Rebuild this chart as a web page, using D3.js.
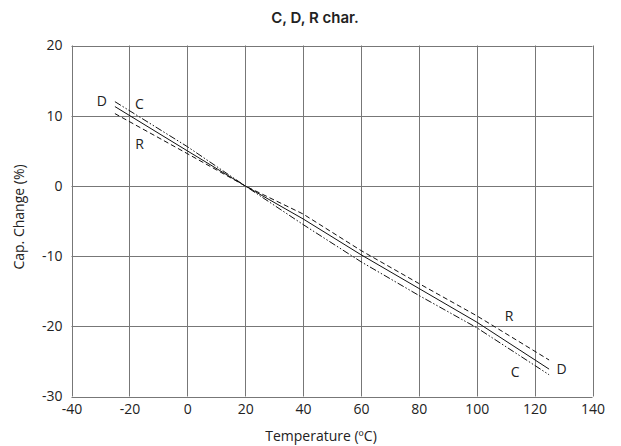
<!DOCTYPE html>
<html>
<head>
<meta charset="utf-8">
<script src="https://cdn.jsdelivr.net/npm/d3@7"></script>
<style>
  html, body { margin: 0; padding: 0; background: #fff; }
  svg { display: block; }
</style>
</head>
<body>
<svg id="chart" width="621" height="446"></svg>
<script>
// Temperature characteristics of capacitance change
const temps = [-25, 0, 20, 40, 60, 80, 100, 125];
const seriesC = [12.0, 5.6, 0, -5.5, -10.8, -15.6, -20.2, -26.9];
const seriesD = [11.3, 5.0, 0, -4.7, -9.8, -14.6, -19.4, -26.1];
const seriesR = [10.3, 4.6, 0, -4.0, -9.2, -13.9, -18.5, -24.8];

const xTicks = [-40, -20, 0, 20, 40, 60, 80, 100, 120, 140];
const yTicks = [-30, -20, -10, 0, 10, 20];

const svg = d3.select("#chart");
const margin = { left: 71.5, right: 28.5, top: 45.5, bottom: 49.5 };
const W = 621, H = 446;

const x = d3.scaleLinear().domain([-40, 140]).range([margin.left, W - margin.right]);
const y = d3.scaleLinear().domain([-30, 20]).range([H - margin.bottom, margin.top]);

const tickFont = "'Open Sans', sans-serif";
const fmt = d => String(d); // plain hyphen-minus

// grid
const grid = svg.append("g").attr("stroke", "#777").attr("stroke-width", 1);
grid.selectAll("line.v").data(xTicks).join("line")
  .attr("class", "v")
  .attr("x1", d => Math.round(x(d)) + 0.5).attr("x2", d => Math.round(x(d)) + 0.5)
  .attr("y1", y(20)).attr("y2", y(-30));
grid.selectAll("line.h").data(yTicks).join("line")
  .attr("class", "h")
  .attr("y1", d => Math.round(y(d)) + 0.5).attr("y2", d => Math.round(y(d)) + 0.5)
  .attr("x1", x(-40)).attr("x2", x(140));

// axes (labels only)
const xAxis = d3.axisBottom(x).tickValues(xTicks).tickFormat(fmt).tickSize(0).tickPadding(8);
const gx = svg.append("g").attr("transform", `translate(0,${y(-30)})`).call(xAxis);
gx.select(".domain").remove();
gx.selectAll("text").attr("font-family", tickFont).attr("font-size", 14).attr("fill", "#222");

const yAxis = d3.axisLeft(y).tickValues(yTicks).tickFormat(fmt).tickSize(0).tickPadding(9);
const gy = svg.append("g").attr("transform", `translate(${x(-40)},0)`).call(yAxis);
gy.select(".domain").remove();
gy.selectAll("text").attr("font-family", tickFont).attr("font-size", 14).attr("fill", "#222");

// curves
const line = vals => d3.line().x((d, i) => x(temps[i])).y(d => y(d))(vals);
const curves = [
  { vals: seriesC, dash: "7,2,1.5,2,1.5,2" },
  { vals: seriesD, dash: null },
  { vals: seriesR, dash: "5,3" }
];
svg.append("g").selectAll("path").data(curves).join("path")
  .attr("d", d => line(d.vals))
  .attr("fill", "none")
  .attr("stroke", "#111")
  .attr("stroke-width", 1)
  .attr("stroke-dasharray", d => d.dash);

// curve labels
const labels = [
  { t: "D", tx: -29.5, v: 12.2 },
  { t: "C", tx: -16.5, v: 11.8 },
  { t: "R", tx: -16.5, v: 6.1 },
  { t: "R", tx: 111.2, v: -18.5 },
  { t: "C", tx: 113.3, v: -26.4 },
  { t: "D", tx: 129.3, v: -26.0 }
];
svg.append("g").selectAll("text").data(labels).join("text")
  .attr("x", d => x(d.tx)).attr("y", d => y(d.v))
  .attr("text-anchor", "middle").attr("dominant-baseline", "central")
  .attr("font-family", tickFont).attr("font-size", 14).attr("fill", "#222")
  .text(d => d.t);

// titles
svg.append("text")
  .attr("x", 315).attr("y", 22.5)
  .attr("text-anchor", "middle")
  .attr("font-family", "Inter, sans-serif").attr("font-weight", 600).attr("font-size", 15)
  .attr("fill", "#222")
  .text("C, D, R char.");

svg.append("text")
  .attr("x", 321).attr("y", 441)
  .attr("text-anchor", "middle")
  .attr("font-family", tickFont).attr("font-size", 14).attr("fill", "#222")
  .text("Temperature (ºC)");

svg.append("text")
  .attr("transform", `translate(24,217) rotate(-90)`)
  .attr("text-anchor", "middle")
  .attr("font-family", tickFont).attr("font-size", 14).attr("fill", "#222")
  .text("Cap. Change (%)");
</script>
</body>
</html>
